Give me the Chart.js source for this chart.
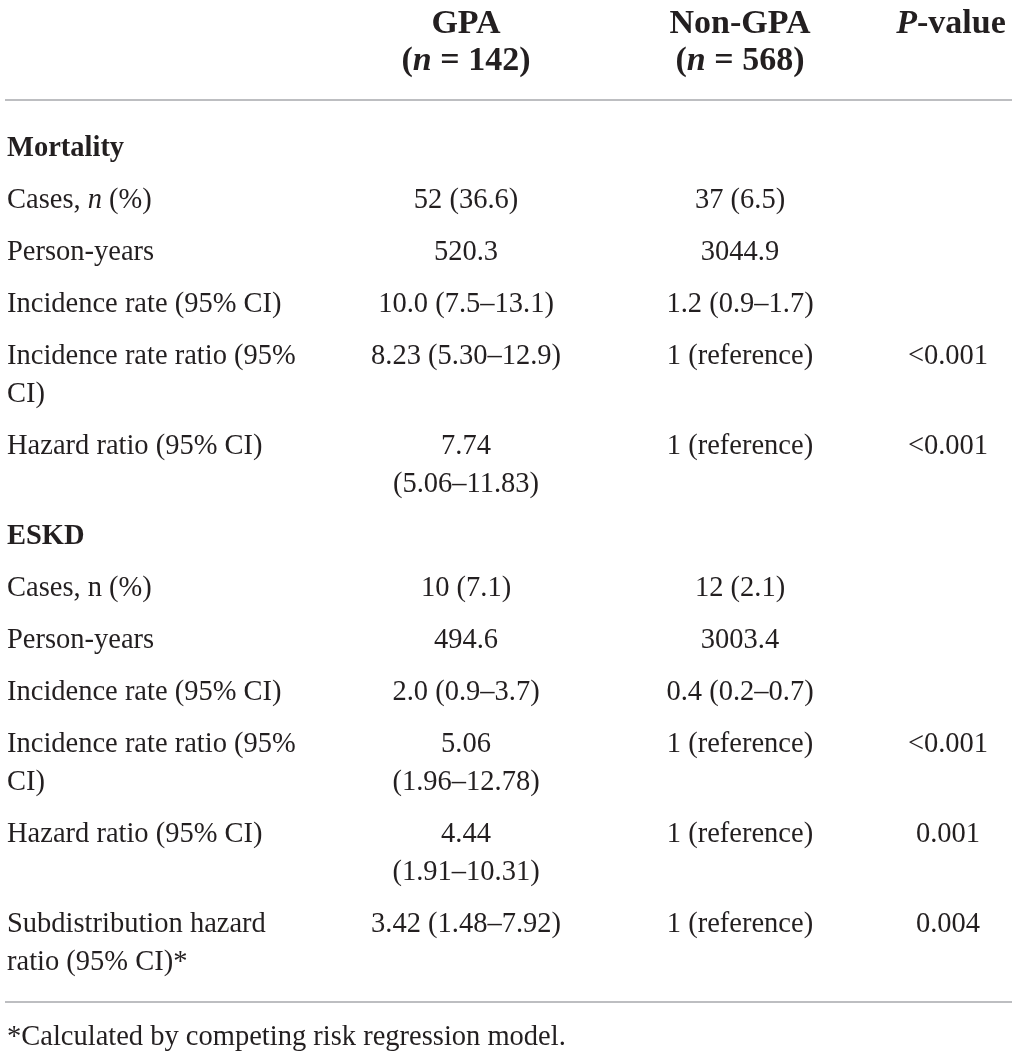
<!DOCTYPE html>
<html>
<head>
  <title>GPA vs Non-GPA outcomes</title>
  <meta charset="utf-8">
  <script src="https://cdn.jsdelivr.net/npm/chart.js@4.4.1/dist/chart.umd.min.js"></script>
  <style>
    html, body { margin: 0; padding: 0; background: #fff; }
    .table-wrap { position: relative; width: 1017px; height: 1056px; }
  </style>
</head>
<body>
  <div class="table-wrap"><canvas id="table-chart"></canvas></div>

  <script>
    // Table content ("_" toggles italic)
    const headerTop = ['', 'GPA', 'Non-GPA', '_P_-value'];
    const headerBottom = ['', '(_n_ = 142)', '(_n_ = 568)', ''];
    const rowLabels = [
      'Mortality', 'Cases, _n_ (%)', 'Person-years', 'Incidence rate (95% CI)',
      'Incidence rate ratio (95%\nCI)', 'Hazard ratio (95% CI)',
      'ESKD', 'Cases, n (%)', 'Person-years', 'Incidence rate (95% CI)',
      'Incidence rate ratio (95%\nCI)', 'Hazard ratio (95% CI)',
      'Subdistribution hazard\nratio (95% CI)*'
    ];
    const sectionRows = ['Mortality', 'ESKD'];
    const gpaValues = [
      '', '52 (36.6)', '520.3', '10.0 (7.5–13.1)', '8.23 (5.30–12.9)', '7.74\n(5.06–11.83)',
      '', '10 (7.1)', '494.6', '2.0 (0.9–3.7)', '5.06\n(1.96–12.78)', '4.44\n(1.91–10.31)',
      '3.42 (1.48–7.92)'
    ];
    const nonGpaValues = [
      '', '37 (6.5)', '3044.9', '1.2 (0.9–1.7)', '1 (reference)', '1 (reference)',
      '', '12 (2.1)', '3003.4', '0.4 (0.2–0.7)', '1 (reference)', '1 (reference)',
      '1 (reference)'
    ];
    const pValues = [
      '', '', '', '', '<0.001', '<0.001',
      '', '', '', '', '<0.001', '0.001', '0.004'
    ];
    const footnote = '*Calculated by competing risk regression model.';

    // layout (in canvas units, mapped through the scales)
    const colX = [7, 466, 740, 948];
    const colAlign = ['left', 'center', 'center', 'center'];
    const firstRowY = 149, rowStep = 52, lineStep = 38;
    const headY = [24, 61];
    const ruleY = [100, 1002];
    const footY = 1038;
    const BODY = 28.5, HEAD = 34;
    const FONT = '"Liberation Serif", "Times New Roman", serif';
    const INK = '#231f20';

    // row y from number of wrapped lines
    const rowY = [];
    let y = firstRowY;
    rowLabels.forEach((lab, i) => {
      rowY.push(y);
      const lines = Math.max(lab.split('\n').length, gpaValues[i].split('\n').length);
      y += rowStep + lineStep * (lines - 1);
    });

    function cellPoints(texts, col, bold) {
      return texts.map((t, i) => ({ x: colX[col], y: rowY[i], text: t, bold: bold ? bold(i) : false, size: BODY }));
    }
    const headerPoints = [];
    headerTop.forEach((t, c) => { if (t) headerPoints.push({ x: colX[c] + (c === 3 ? 3 : 0), y: headY[0], text: t, bold: true, size: HEAD, col: c }); });
    headerBottom.forEach((t, c) => { if (t) headerPoints.push({ x: colX[c], y: headY[1], text: t, bold: true, size: HEAD, col: c }); });

    const datasets = [
      { label: 'labels', data: cellPoints(rowLabels, 0, i => sectionRows.includes(rowLabels[i])), col: 0 },
      { label: 'GPA', data: cellPoints(gpaValues, 1), col: 1 },
      { label: 'Non-GPA', data: cellPoints(nonGpaValues, 2), col: 2 },
      { label: 'P-value', data: cellPoints(pValues, 3), col: 3 },
      { label: 'header', data: headerPoints, col: -1 },
      { label: 'footnote', data: [{ x: colX[0], y: footY, text: footnote, bold: false, size: BODY }], col: 0 }
    ];
    datasets.forEach(d => { d.pointRadius = 0; d.pointHoverRadius = 0; d.showLine = false; });

    function drawRich(ctx, str, x, yy, align, bold, size) {
      const parts = str.split('_');
      const fontFor = k => (k % 2 ? 'italic ' : '') + (bold ? 'bold ' : '') + size + 'px ' + FONT;
      let total = 0;
      parts.forEach((p, k) => { ctx.font = fontFor(k); total += ctx.measureText(p).width; });
      let cx = align === 'center' ? x - total / 2 : x;
      ctx.textAlign = 'left';
      parts.forEach((p, k) => {
        ctx.font = fontFor(k);
        ctx.fillText(p, cx, yy);
        cx += ctx.measureText(p).width;
      });
    }

    const tableText = {
      id: 'tableText',
      afterDatasetsDraw(chart) {
        const ctx = chart.ctx;
        const xs = chart.scales.x, ys = chart.scales.y;
        ctx.save();
        // horizontal rules
        ctx.strokeStyle = '#a7a9ac';
        ctx.lineWidth = 1.5;
        ruleY.forEach(r => {
          const py = ys.getPixelForValue(r);
          ctx.beginPath();
          ctx.moveTo(xs.getPixelForValue(5), py);
          ctx.lineTo(xs.getPixelForValue(1012), py);
          ctx.stroke();
        });
        ctx.fillStyle = INK;
        ctx.textBaseline = 'middle';
        const step = ys.getPixelForValue(lineStep) - ys.getPixelForValue(0);
        chart.data.datasets.forEach((ds, di) => {
          const meta = chart.getDatasetMeta(di);
          meta.data.forEach((el, i) => {
            const pt = ds.data[i];
            if (!pt.text) return;
            const col = ds.col >= 0 ? ds.col : pt.col;
            pt.text.split('\n').forEach((line, li) => {
              drawRich(ctx, line, el.x, el.y + li * step, colAlign[col], pt.bold, pt.size);
            });
          });
        });
        ctx.restore();
      }
    };

    new Chart(document.getElementById('table-chart'), {
      type: 'scatter',
      data: { datasets },
      options: {
        responsive: true,
        maintainAspectRatio: false,
        animation: false,
        layout: { padding: 0 },
        plugins: { legend: { display: false }, tooltip: { enabled: false } },
        scales: {
          x: { type: 'linear', min: 0, max: 1017, display: false },
          y: { type: 'linear', min: 0, max: 1056, reverse: true, display: false }
        }
      },
      plugins: [tableText]
    });
  </script>
</body>
</html>
